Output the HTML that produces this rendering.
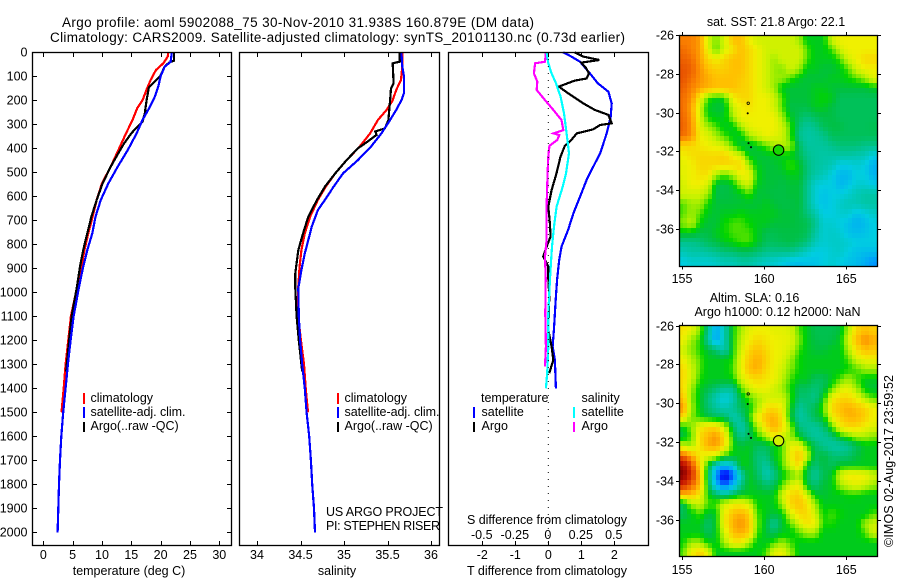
<!DOCTYPE html>
<html>
<head>
<meta charset="utf-8">
<title>Argo profile chart</title>
<style>
html,body{margin:0;padding:0;background:#fff;width:900px;height:580px;overflow:hidden}
svg{display:block}
text{font-family:"Liberation Sans",sans-serif;font-size:12.5px;fill:#000}
text.big{font-size:13.5px}
</style>
</head>
<body>
<svg id="chart" width="900" height="580" viewBox="0 0 900 580" xmlns="http://www.w3.org/2000/svg">
<rect width="900" height="580" fill="#fff"/>
<text class="big" x="298" y="27" text-anchor="middle" textLength="472">Argo profile: aoml 5902088_75 30-Nov-2010 31.938S 160.879E (DM data)</text>
<text class="big" x="337.5" y="42" text-anchor="middle" textLength="575">Climatology: CARS2009. Satellite-adjusted climatology: synTS_20101130.nc (0.73d earlier)</text>

<g id="curves"></g>
<g id="maps"></g>
<g id="axes"></g>

<rect x="32.5" y="52.5" width="199" height="493" fill="none" stroke="#000" stroke-width="1.3"/>
<rect x="239.5" y="52.5" width="200" height="493" fill="none" stroke="#000" stroke-width="1.3"/>
<rect x="448.5" y="52.5" width="200" height="493" fill="none" stroke="#000" stroke-width="1.3"/>
<rect x="679.5" y="35.5" width="198" height="231" fill="none" stroke="#000" stroke-width="1.3"/>
<rect x="679.5" y="325.5" width="198" height="231" fill="none" stroke="#000" stroke-width="1.3"/>

<text x="129" y="575" text-anchor="middle">temperature (deg C)</text>
<text x="337" y="575" text-anchor="middle">salinity</text>
<text x="547" y="575" text-anchor="middle" textLength="160">T difference from climatology</text>
<text x="547" y="524" text-anchor="middle" textLength="160">S difference from climatology</text>

<g>
<rect x="83" y="393" width="2" height="11" fill="#f00"/>
<text x="90.5" y="402">climatology</text>
<rect x="83" y="407" width="2" height="11" fill="#00f"/>
<text x="90.5" y="416" textLength="95">satellite-adj. clim.</text>
<rect x="83" y="422" width="2" height="10" fill="#000"/>
<text x="90.5" y="430">Argo(..raw -QC)</text>
</g>
<g>
<rect x="337" y="393" width="2" height="11" fill="#f00"/>
<text x="344.5" y="402">climatology</text>
<rect x="337" y="407" width="2" height="11" fill="#00f"/>
<text x="344.5" y="416" textLength="95">satellite-adj. clim.</text>
<rect x="337" y="422" width="2" height="10" fill="#000"/>
<text x="344.5" y="430">Argo(..raw -QC)</text>
</g>
<g>
<text x="481" y="402">temperature</text>
<rect x="473" y="407" width="2" height="11" fill="#00f"/>
<text x="481.5" y="416">satellite</text>
<rect x="473" y="422" width="2" height="10" fill="#000"/>
<text x="481.5" y="430">Argo</text>
<text x="581.5" y="402">salinity</text>
<rect x="573" y="407" width="2" height="11" fill="#0ff"/>
<text x="581.5" y="416">satellite</text>
<rect x="573" y="422" width="2" height="10" fill="#f0f"/>
<text x="581.5" y="430">Argo</text>
</g>
<text x="326" y="516" textLength="117">US ARGO PROJECT</text>
<text x="326" y="530" textLength="114">PI: STEPHEN RISER</text>

<text x="776" y="26" text-anchor="middle">sat. SST: 21.8 Argo: 22.1</text>
<text x="754.5" y="302" text-anchor="middle">Altim. SLA: 0.16</text>
<text x="777.5" y="316" text-anchor="middle">Argo h1000: 0.12 h2000: NaN</text>
<text transform="translate(893,461) rotate(-90)" text-anchor="middle" textLength="172">©IMOS 02-Aug-2017 23:59:52</text>
</svg>

<script>
// ---------- Tick data ----------
const depthTicks = [0,100,200,300,400,500,600,700,800,900,1000,1100,1200,1300,1400,1500,1600,1700,1800,1900,2000];
const tempTicks = [0,5,10,15,20,25,30];
const salTicks = ["34","34.5","35","35.5","36"];
const tDiffTicks = ["-2","-1","0","1","2"];
const sDiffTicks = ["-0.5","-0.25","0","0.25","0.5"];
const lonTicks = [155,160,165];
const latTicks = [-26,-28,-30,-32,-34,-36];

// ---------- Temperature panel ----------
const tempClimDepth = [0,18,46,74,115,150,200,233,282,338,407,476,546,615,685,754,824,893,976,1100,1200,1300,1400,1500];
const tempClimValue = [21.3,21.2,20.45,19.2,18.3,17.7,16.9,16,15.2,14.1,12.8,11.5,10,9.1,8.4,7.67,7,6.5,5.8,4.7,4.26,3.8,3.47,3.1];
const tempSatDepth = [0,40,60,100,143,185,226,282,338,407,476,546,615,685,754,824,893,976,1100,1200,1300,1400,1500,1600,1700,1800,1900,2000];
const tempSatValue = [21.9,21.7,20.7,20,19.6,19,18.2,16.9,15.9,14.4,12.7,11.1,9.8,8.9,8.35,7.5,6.8,6.1,5.17,4.66,4.2,3.8,3.4,3.07,2.84,2.67,2.55,2.44];
const tempArgoDepth = [0,5,35,40,46,60,100,122,146,200,254,290,324,338,380,420,476,546,615,685,754,824,893,976,1100,1200,1300,1330];
const tempArgoValue = [22.3,22.3,22.3,21.7,21.3,20.7,19.9,19,18,17.6,17.3,16.9,15.5,15,13.75,12.8,11.5,10.1,9.1,8.2,7.5,6.8,6.25,5.74,4.83,4.4,4,3.9];

// ---------- Salinity panel ----------
const salClimDepth = [0,60,115,157,200,240,282,338,393,449,504,560,615,685,754,824,893,976,1100,1200,1300,1400,1500];
const salClimValue = [35.67,35.67,35.655,35.6,35.56,35.49,35.39,35.3,35.18,35.03,34.9,34.79,34.7,34.61,34.55,34.51,34.49,34.475,34.475,34.505,34.54,34.56,34.586];
const salSatDepth = [0,60,100,170,200,240,282,338,393,449,504,560,615,657,726,782,838,907,983,1100,1200,1300,1400,1500,1600,1700,1800,1900,2000];
const salSatValue = [35.66,35.67,35.69,35.69,35.66,35.6,35.53,35.43,35.31,35.16,34.99,34.88,34.78,34.7,34.63,34.59,34.55,34.51,34.475,34.48,34.495,34.52,34.55,34.57,34.6,34.62,34.635,34.655,34.667];
const salArgoDepth = [0,39,46,129,150,200,282,317,330,344,380,400,449,504,560,615,685,754,824,921,983,1100,1200,1300,1330];
const salArgoValue = [35.64,35.64,35.56,35.57,35.54,35.53,35.51,35.47,35.36,35.375,35.24,35.16,35.03,34.9,34.78,34.69,34.59,34.53,34.475,34.44,34.44,34.455,34.48,34.51,34.52];

// ---------- Difference panel ----------
const dTempSatDepth = [0,18,39,88,129,164,213,268,338,421,477,532,602,671,740,810,866,942,1018,1157,1226,1282,1400];
const dTempSatValue = [0.45,0.7,0.96,1.26,1.5,1.82,1.92,1.89,1.77,1.57,1.36,1.16,0.96,0.76,0.6,0.4,0.33,0.27,0.23,0.17,0.13,0.2,0.23];
const dTempArgoDepth = [0,18,32,43,67,88,109,118,143,171,213,240,261,296,303,321,338,365,390,435,504,574,643,713,768,810,851,893,942,1018,1157,1226,1282,1337];
const dTempArgoValue = [0.8,1.06,1.55,1,1.15,1.23,1.16,0.8,0.32,0.6,1.06,1.41,1.82,1.92,1.57,1.36,0.86,0.7,0.5,0.37,0.25,0.1,0,0.05,0.07,-0.05,-0.15,0,0,0.03,0,0.1,0.15,0.03];
const dSalSatDepth = [0,46,88,129,185,254,338,421,504,560,643,726,810,893,942,1088,1226,1337,1400];
const dSalSatValue = [-0.013,0,0.025,0.058,0.093,0.119,0.139,0.157,0.134,0.109,0.063,0.043,0.028,0.018,0.013,0,0,-0.008,-0.018];
const dSalArgoDepth = [0,39,46,88,122,157,199,240,282,324,338,345,365,390,435,504,643,782,851,942,1088,1226,1310];
const dSalArgoValue = [-0.018,-0.025,-0.1,-0.109,-0.083,-0.088,-0.025,0.038,0.1,0.114,0.04,0.083,0.068,0.008,0,-0.005,-0.013,-0.013,-0.025,-0.02,-0.023,-0.018,-0.025];

// ---------- Map data: colour-scale levels, north to south, west to east ----------
const sstLevels = [
[9,9,8.5,6.5,5.8,6.5,8,8,7,6.5,6.5,6.5,6.5,6.5,6,5,5,5,6.5,7,7,7,7,7],
[9.3,9,8.5,6.8,5.5,6.5,7.3,8,7.5,7,6.5,6.5,6.5,6.5,6.5,5.5,5,5,5.5,6.5,7,7,7,7],
[9.5,9.3,8.5,7.5,7,7.5,8,8,7.5,7,6.5,6,6.5,6.5,6.5,5.5,5,5,5,5.5,6.5,7,7.5,7.5],
[9.7,9.5,8.7,8,7.7,7.7,8,8,7.5,7,6.5,6,5.8,6.5,6,5,5,4.8,4.8,5,5.5,6.5,7,7],
[9.7,9.3,8.7,8.3,8,8,8,7.8,7.5,7,6.5,6,6,5.5,5,4.8,4.8,4.8,5,5,5.2,5.5,6,6.8],
[9.5,9,8.5,8.2,8,8,8,7.7,7.5,7,6.5,6,5,4.8,4.8,4.8,5,5,4.8,4.8,4.8,4.8,4.8,5],
[9.3,8.8,7,5.5,5,5.2,7,7.5,7.5,7,7,6.5,5.5,4.8,4.8,4.8,5,5.2,5,4.5,4.5,4.5,4.5,4.5],
[9.3,8.5,6.5,5,4.8,4.8,6.5,7,7.3,7,7,6.5,5.5,4.7,4.7,4.7,5,5,4.7,4.5,4.5,4.5,4.5,4.5],
[9.4,8.7,6.5,5.2,5,5,6,7,7,7,7,7,6,5,4.5,4.2,4.5,4.7,4.7,4.5,4.5,4.5,4.5,4.5],
[9.5,8.8,6.8,6,5.5,5,5,6,6.8,7,7,7,6.5,5.5,4.2,3.8,4,4.5,4.7,4.7,4.5,4.5,4.5,4.6],
[9.3,8.8,7,6.7,6,5.5,5,5,6,6.5,7,6.8,6.5,5.5,4,3.7,3.8,4,4.5,4.5,4.5,4.5,4.5,4.5],
[7.5,7.5,7.2,7,6.8,6.5,5.5,4.8,4.7,5,5.5,6,6.2,6,4.5,3.8,3.8,3.8,4,4.2,4.2,4.2,4,4],
[7,7.3,7.5,7.5,7.5,7.7,7,6.5,5,4.8,4.8,5,5,5,4.6,4,3.8,3.7,3.7,3.7,3.7,3.6,3.5,3],
[6.8,7,7.5,7.5,7.5,7.5,7.5,7.5,6,5,4.8,4.8,5,5.5,5,4.2,3.8,3.7,3.5,3,3,3.2,3,2.5],
[6.8,7,7.3,7.3,6,5.5,6,7,7,5.2,4.8,4.8,4.8,5,5,4.2,3.7,3.5,3,2.6,2.6,3,3,2.5],
[6.5,7,7,6.5,4.8,4.6,5,6,6.5,5,4.8,4.8,4.7,4.8,4.8,4,3.2,3,3,2.6,2.8,3.2,3.2,3],
[6.5,6.5,6.5,6,4.7,4.7,4.8,5,5.5,4.8,4.8,4.7,4.7,4.8,4.8,4,3.2,2.8,3,3,3.2,3.5,3.7,3.7],
[5.5,6,6,5.2,4.8,4.8,4.8,4.8,4.8,4.8,5,4.8,4.7,4.7,4.8,4,3.2,2.8,3,3.3,3.5,3.5,3.7,3.7],
[5.5,6,5.5,5,4.8,5,5,5.2,5,5,5,5,4.8,4.8,4.7,4.2,3.7,3,3,3.2,3.2,2.8,3,3.3],
[5.8,6.3,5.2,4.8,4.8,5.2,5.5,5.5,5.2,5,5,4.8,4.8,4.8,4.7,4.6,4,3.2,3.2,3,2.8,2.5,2.7,3],
[5,5,4.7,4.7,5,5.2,5.5,5.5,5.5,5,4.6,4.6,4.7,4.7,4.7,4.5,3.8,3.2,3.3,3.2,2.8,2.7,2.8,3],
[4,4,4.2,4.5,4.7,5,5.2,5.5,5.5,5,4.5,4.5,4.6,4.7,4.5,4.2,3.5,3.2,3.3,3.3,3.2,3,3,3],
[3.5,3.7,3.7,3.8,4,4.2,4.3,4.5,4.5,4.3,4,4,4,4,3.7,3.3,3,3,3.2,3.3,3,2.8,2.7,2.7],
[3,3.2,3.2,3.2,3.3,3.5,3.5,3.7,3.7,3.5,3.3,3.2,3,2.8,2.7,2.8,2.8,3,3.2,3,2.8,2.7,2.4,2]
];
const slaLevels = [
[7.3,6.8,5.8,4,2.3,3.5,5.2,6,6.8,7,7,6.8,6.8,6.6,5.5,5,4.6,4.6,4.6,4.8,6,7.5,8,7.7],
[7,6,5.3,3.8,2.2,3.5,5.2,6.3,7,7.5,7.2,7,6.9,6.8,5.8,5,4.7,4.6,4.7,5,6.5,8,8.8,8.3],
[6.5,5.8,5.3,4.8,4.3,3.5,5.2,6.5,7.5,8,7.5,7,6.9,6.5,5.4,5,4.8,4.8,5,5,6,7.3,8,7.8],
[7,6.2,5.5,5,5,5,5.3,6.8,7.8,8.3,7.7,7,6.8,6,5.2,5,5,5,5,5,5.5,6.5,7,7],
[7.5,6.5,5.5,5,5,5,5.5,6.8,8,8.3,7.5,7,6.5,5.8,5.2,5,5,5,5,5,5.2,5.5,6,6],
[7.5,6.5,5.3,5,5,5,5.2,6.5,7.2,7.5,7.2,7,6.3,5.5,5,5,4.5,4.5,5,5.5,6,5.5,5,5],
[7.5,6,5,4.7,4.3,4,4,5.6,6.5,7,7,6.5,6,5.3,4.5,4.5,4.2,4.5,5.5,6.5,6.8,6,5,4.8],
[8,5.8,5,4.2,3.5,3,3.5,4.8,5.5,6,6.5,6.5,6.5,5.5,4.3,4.3,4,5,7,7.5,7.5,7,6,5.5],
[8.7,6,5,4.3,3.8,3.5,3.9,4.5,5,6,7.3,7.5,7,5.2,3.8,4.2,4.6,5.5,7.5,8,8.3,8,7.6,7],
[7.5,5.8,5.2,4.8,4.5,4.5,3.5,4,5.2,7,8,8.3,7.3,5,3.7,4,4.6,5,7,7.7,8.2,8.2,7.7,7],
[5,5.8,7,7.5,7.5,6.5,4.5,3.5,4.5,6,7.5,8.3,7.5,6,4.2,3.9,3.8,4.2,5.5,7,7.5,7.5,7,6.7],
[4.7,5.5,7.5,8.2,8.7,7.5,5,4,4.5,5.2,6,7,6.5,6,5,4.2,3.8,3.8,4.2,5,5.5,6,6,5.8],
[6.5,6,7.3,8.3,8.5,7.5,5.2,4.8,5,4.5,4.5,5,5.5,6.8,7,5.5,4.5,4,3.7,3.7,3.9,4.5,5,5],
[9.5,8.5,7,6.7,6.5,5.3,5,5,5,4.2,4.2,5,5.5,7,8,6.5,4.5,4.8,4.3,4.2,4.3,4.7,5,5],
[11.5,10,7.5,5,3,2.5,3,5,5,4.3,3.7,4.5,5.5,6.5,7.5,5,4.2,4.7,4.5,5,5,5,5,5],
[12,10.5,8,4.5,2,0.3,1.5,3.5,5,4.5,3.5,4,5,5.5,6,4.6,3.8,4.5,5,6.5,7.2,7.2,7,6.5],
[10.5,9.5,8,4.8,2.5,1.5,2.5,4,5,4.8,4.3,4.5,5.5,6.5,7,4.8,4.2,4.8,5,6,6.5,6.8,6.5,6],
[8,8,7,5.2,4.5,4,4.5,5,5,5,5,5,6.5,7.5,7.7,6.5,5,4.8,5,5,5.2,5.2,5,5],
[4.5,6,6.5,5.5,5.5,6.5,7,7,6.5,5.2,5,5,6,7.5,8,7.3,6,5,5,5,5,5,5,5],
[4.5,5,5.5,4.8,5,7,8,8.3,7.7,5.5,5,4.8,5,6.5,7.5,7.5,6.5,5.2,5.5,5.2,5,5,5,5.5],
[5,5,5,4.3,5,7,8.3,8.7,8,5.7,4.8,3.8,4.8,5.5,6.5,7.3,7,5.3,5.3,5,5,5,6,6.5],
[5,5,5,4.5,5,6.5,8,8.3,7.8,5.5,4.8,4.5,5,5,5.5,6,6,5,5,5,5,5,5.5,6.5],
[5.2,6,6,5.2,5,6,7,7,6,5,5,5.5,6,5.5,5,5,5,5,5,5,5,5,5,5],
[5.5,7,7.7,6.8,5,5,5,5,5,5,5.5,6.8,7,6,5,5,5,5,5,5,5,5,5,5]
];
const trackLon = [159.03,159.0,159.05,159.2];
const trackLat = [-29.52,-30.04,-31.58,-31.79];
const argoLon = [160.879];
const argoLat = [-31.938];
const sstArgoLevel = [5.3];
const slaArgoLevel = [6.5];

// ---------- Scales ----------
const NS = 'http://www.w3.org/2000/svg';
const depthY = d => 52.3 + d * 0.24;
const tempX = t => 43.3 + t * 5.867;
const salX = s => 257 + (s - 34) * 87;
const dTempX = t => 548.3 + t * 33;
const dSalX = s => 548.3 + s * 132;
const lonX = lon => 682 + (lon - 155) * 16.43;
const latY0 = 35, latY1 = 325.7;
const latScale = 19.38;

const colorLevels = [0,1,2,3,4,4.75,5.2,5.7,6.3,7,8,9,10,11,12];
const colorStops = [
 [0,0,128],[0,32,255],[0,150,255],[0,205,225],[0,195,140],[0,192,64],[0,212,0],
 [120,232,0],[195,242,0],[240,240,0],[255,192,0],[250,128,0],[224,64,0],[192,16,0],[128,0,0]
];
function levelColor(v){
  const l = Math.max(0, Math.min(12, v));
  let i = 0;
  while (i < colorLevels.length - 2 && l > colorLevels[i + 1]) i++;
  const f = (l - colorLevels[i]) / (colorLevels[i + 1] - colorLevels[i]);
  const a = colorStops[i], b = colorStops[i + 1];
  return 'rgb(' + [0,1,2].map(k => Math.round(a[k] + (b[k] - a[k]) * f)).join(',') + ')';
}

function make(tag, parent){
  const el = document.createElementNS(NS, tag);
  parent.appendChild(el);
  return el;
}

// ---------- Curves ----------
const curves = document.getElementById('curves');
function drawCurve(name, depths, values, xFn, color){
  const el = make('polyline', curves);
  
  
  el.setAttribute('points', depths.map((d, i) => xFn(values[i]).toFixed(1) + ',' + depthY(d).toFixed(1)).join(' '));
  el.setAttribute('fill', 'none');
  el.setAttribute('stroke', color);
  el.setAttribute('stroke-width', '2.2');
  el.setAttribute('shape-rendering', 'crispEdges');
}
drawCurve('temperature-climatology-line', tempClimDepth, tempClimValue, tempX, '#f00');
drawCurve('temperature-argo-line', tempArgoDepth, tempArgoValue, tempX, '#000');
drawCurve('temperature-satellite-line', tempSatDepth, tempSatValue, tempX, '#00f');
drawCurve('salinity-climatology-line', salClimDepth, salClimValue, salX, '#f00');
drawCurve('salinity-argo-line', salArgoDepth, salArgoValue, salX, '#000');
drawCurve('salinity-satellite-line', salSatDepth, salSatValue, salX, '#00f');
drawCurve('t-difference-satellite-line', dTempSatDepth, dTempSatValue, dTempX, '#00f');
drawCurve('t-difference-argo-line', dTempArgoDepth, dTempArgoValue, dTempX, '#000');
drawCurve('s-difference-argo-line', dSalArgoDepth, dSalArgoValue, dSalX, '#f0f');
drawCurve('s-difference-satellite-line', dSalSatDepth, dSalSatValue, dSalX, '#0ff');

const zeroLine = make('line', curves);


zeroLine.setAttribute('x1', dTempX(0));
zeroLine.setAttribute('x2', dTempX(0));
zeroLine.setAttribute('y1', 52);
zeroLine.setAttribute('y2', 545);
zeroLine.setAttribute('stroke', '#000');
zeroLine.setAttribute('stroke-width', '1');
zeroLine.setAttribute('stroke-dasharray', '1 6');

// ---------- Heat maps ----------
const mapsGroup = document.getElementById('maps');
function sampleGrid(grid, u, v){
  const maxR = grid.length - 1, maxC = grid[0].length - 1;
  const cu = Math.max(0, Math.min(maxC, u)), cv = Math.max(0, Math.min(maxR, v));
  const c0 = Math.floor(cu), r0 = Math.floor(cv);
  const c1 = Math.min(maxC, c0 + 1), r1 = Math.min(maxR, r0 + 1);
  const fu = cu - c0, fv = cv - r0;
  return (grid[r0][c0] * (1 - fu) + grid[r0][c1] * fu) * (1 - fv) + (grid[r1][c0] * (1 - fu) + grid[r1][c1] * fu) * fv;
}
function drawMap(name, grid, top, circleLevel){
  const latY = lat => top + (-lat - 26) * latScale;
  const g = make('g', mapsGroup);
  
  
  g.setAttribute('shape-rendering', 'crispEdges');
  const n = grid.length * 2, m = grid[0].length * 2;
  const lonW = 154.82, lonStep = 12.05 / m;
  const latN = -26, latStep = 11.95 / n;
  for (let r = 0; r < n; r++){
    const y0 = Math.round(latY(latN - r * latStep));
    const y1 = Math.round(latY(latN - (r + 1) * latStep));
    for (let c = 0; c < m; c++){
      const x0 = Math.round(lonX(lonW + c * lonStep));
      const x1 = Math.round(lonX(lonW + (c + 1) * lonStep));
      const cell = make('rect', g);
      
      
      cell.setAttribute('x', x0);
      cell.setAttribute('y', y0);
      cell.setAttribute('width', x1 - x0);
      cell.setAttribute('height', y1 - y0);
      cell.setAttribute('fill', levelColor(sampleGrid(grid, (c + 0.5) / 2 - 0.5, (r + 0.5) / 2 - 0.5)));
    }
  }
  trackLon.forEach((lon, i) => {
    const dot = make('circle', mapsGroup);
    
    
    dot.setAttribute('cx', lonX(lon));
    dot.setAttribute('cy', latY(trackLat[i]));
    dot.setAttribute('r', i === 0 ? 1.2 : 0.9);
    dot.setAttribute('fill', i === 0 ? 'none' : '#000');
    dot.setAttribute('stroke', '#000');
    dot.setAttribute('stroke-width', i === 0 ? 0.8 : 0.3);
  });
  const circle = make('circle', mapsGroup);
  
  
  circle.setAttribute('cx', lonX(argoLon[0]));
  circle.setAttribute('cy', latY(argoLat[0]));
  circle.setAttribute('r', 5.2);
  circle.setAttribute('fill', levelColor(circleLevel));
  circle.setAttribute('stroke', '#000');
  circle.setAttribute('stroke-width', '1.1');
}
drawMap('sst-map', sstLevels, latY0, sstArgoLevel[0]);
drawMap('sla-map', slaLevels, latY1, slaArgoLevel[0]);

// ---------- Axes ----------
const axes = document.getElementById('axes');
function tickMark(x1, y1, x2, y2, name){
  const el = make('line', axes);
  
  
  el.setAttribute('x1', x1);
  el.setAttribute('y1', y1);
  el.setAttribute('x2', x2);
  el.setAttribute('y2', y2);
  el.setAttribute('stroke', '#000');
  el.setAttribute('stroke-width', '1');
  el.setAttribute('shape-rendering', 'crispEdges');
}
function tickText(x, y, label, anchor, name){
  const el = make('text', axes);
  
  
  el.setAttribute('x', x);
  el.setAttribute('y', y);
  el.setAttribute('text-anchor', anchor);
  el.textContent = label;
}
depthTicks.forEach(d => {
  const y = Math.round(depthY(d)) + 0.5;
  tickMark(33, y, 37, y, 'depth-tick');
  tickMark(227, y, 231, y, 'depth-tick');
  tickText(27.5, depthY(d) + 4, String(d), 'end', 'depth-tick-label');
});
tempTicks.forEach(t => {
  const x = Math.round(tempX(t)) + 0.5;
  tickMark(x, 53, x, 57, 'temperature-tick');
  tickMark(x, 541, x, 545, 'temperature-tick');
  tickText(tempX(t), 559, String(t), 'middle', 'temperature-tick-label');
});
salTicks.forEach(s => {
  const x = Math.round(salX(Number(s))) + 0.5;
  tickMark(x, 53, x, 57, 'salinity-tick');
  tickMark(x, 541, x, 545, 'salinity-tick');
  tickText(salX(Number(s)), 559, s, 'middle', 'salinity-tick-label');
});
tDiffTicks.forEach(t => {
  const x = Math.round(dTempX(Number(t))) + 0.5;
  tickMark(x, 53, x, 57, 't-difference-tick');
  tickMark(x, 541, x, 545, 't-difference-tick');
  tickText(dTempX(Number(t)), 559, t, 'middle', 't-difference-tick-label');
});
sDiffTicks.forEach(s => {
  tickText(dSalX(Number(s)) - 0.5, 539, s, 'middle', 's-difference-tick-label');
});
[[latY0, 283, 'sst'], [latY1, 574, 'sla']].forEach(([top, labelY, key]) => {
  const bottom = top + 231.5;
  lonTicks.forEach(lon => {
    const x = Math.round(lonX(lon)) + 0.5;
    tickMark(x, top - 3, x, top, key + '-lon-tick');
    tickMark(x, bottom, x, bottom + 3, key + '-lon-tick');
    tickText(lonX(lon), labelY, String(lon), 'middle', key + '-lon-tick-label');
  });
  latTicks.forEach(lat => {
    const y = Math.round(top + (-lat - 26) * latScale) + 0.5;
    tickMark(676, y, 679, y, key + '-lat-tick');
    tickMark(878, y, 881, y, key + '-lat-tick');
    tickText(674, y + 4, String(lat), 'end', key + '-lat-tick-label');
  });
});
</script>
</body>
</html>
